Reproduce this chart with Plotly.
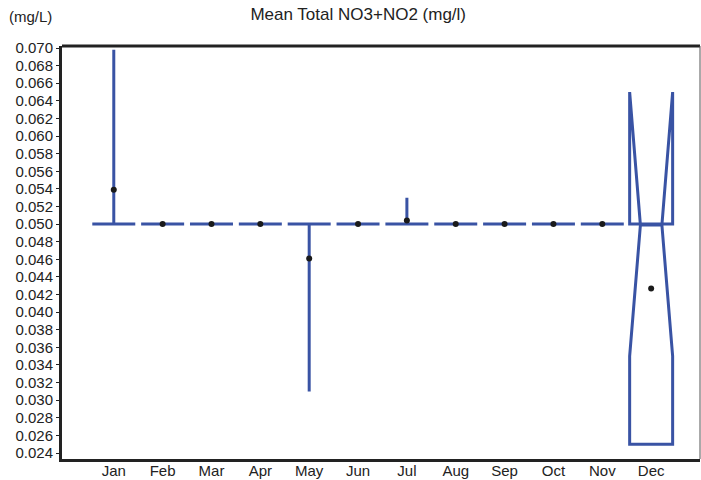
import plotly.graph_objects as go

months = ["Jan", "Feb", "Mar", "Apr", "May", "Jun", "Jul", "Aug", "Sep", "Oct", "Nov", "Dec"]
q1 = [0.050, 0.050, 0.050, 0.050, 0.050, 0.050, 0.050, 0.050, 0.050, 0.050, 0.050, 0.025]
median = [0.050, 0.050, 0.050, 0.050, 0.050, 0.050, 0.050, 0.050, 0.050, 0.050, 0.050, 0.050]
q3 = [0.050, 0.050, 0.050, 0.050, 0.050, 0.050, 0.050, 0.050, 0.050, 0.050, 0.050, 0.050]
lower_fence = [0.050, 0.050, 0.050, 0.050, 0.031, 0.050, 0.050, 0.050, 0.050, 0.050, 0.050, 0.025]
upper_fence = [0.0698, 0.050, 0.050, 0.050, 0.050, 0.050, 0.053, 0.050, 0.050, 0.050, 0.050, 0.050]
notch_span = [0, 0, 0, 0, 0, 0, 0, 0, 0, 0, 0, 0.015]
means = [0.0539, 0.050, 0.050, 0.050, 0.0461, 0.050, 0.0504, 0.050, 0.050, 0.050, 0.050, 0.0427]

blue = "#3953a4"
font = "Liberation Sans, Arial, sans-serif"

fig = go.Figure()
fig.add_trace(go.Box(
    x=months, q1=q1, median=median, q3=q3,
    lowerfence=lower_fence, upperfence=upper_fence,
    notched=True, notchspan=notch_span, notchwidth=0.25,
    width=0.88, whiskerwidth=0,
    line=dict(color=blue, width=3), fillcolor="rgba(0,0,0,0)",
    showlegend=False, hoverinfo="skip",
))
fig.add_trace(go.Scatter(
    x=months, y=means, mode="markers",
    marker=dict(color="#1a1a1a", size=6),
    showlegend=False, hoverinfo="skip",
))

fig.update_layout(
    width=701, height=480,
    margin=dict(l=62, r=1, t=46, b=18),
    paper_bgcolor="white", plot_bgcolor="white",
    font=dict(family=font, size=15, color="#222"),
    title=dict(text="Mean Total NO3+NO2 (mg/l)", font=dict(size=17, color="#222"),
               xref="container", x=0.511, xanchor="center",
               yref="container", y=1 - 14 / 480, yanchor="middle"),
    xaxis=dict(type="category", range=[-1.06, 12.0], showgrid=False, zeroline=False,
               showline=True, linecolor="#222", linewidth=3, ticks="",
               ticklabelstandoff=-4,
               tickfont=dict(size=15, color="#222")),
    yaxis=dict(range=[0.02332, 0.07023], dtick=0.002, tick0=0, tickformat=".3f",
               showgrid=False, zeroline=False, showline=True, linecolor="#222",
               linewidth=3, ticks="outside", ticklen=3, tickwidth=1, tickcolor="#222",
               tickfont=dict(size=15, color="#222")),
    shapes=[
        dict(type="line", xref="paper", yref="paper", x0=0, x1=1, y0=1, y1=1,
             line=dict(color="#222", width=3)),
        dict(type="line", xref="paper", yref="paper", x0=1, x1=1, y0=0, y1=1,
             line=dict(color="#555", width=1)),
    ],
    annotations=[
        dict(text="(mg/L)", xref="paper", yref="paper", x=-62 / 638, y=1 + 30 / 416,
             xanchor="left", yanchor="middle", showarrow=False,
             font=dict(size=15, color="#222"), xshift=7),
    ],
)

fig.write_html("out.html", config={"displayModeBar": False},
               post_script="document.body.style.margin='0';")
